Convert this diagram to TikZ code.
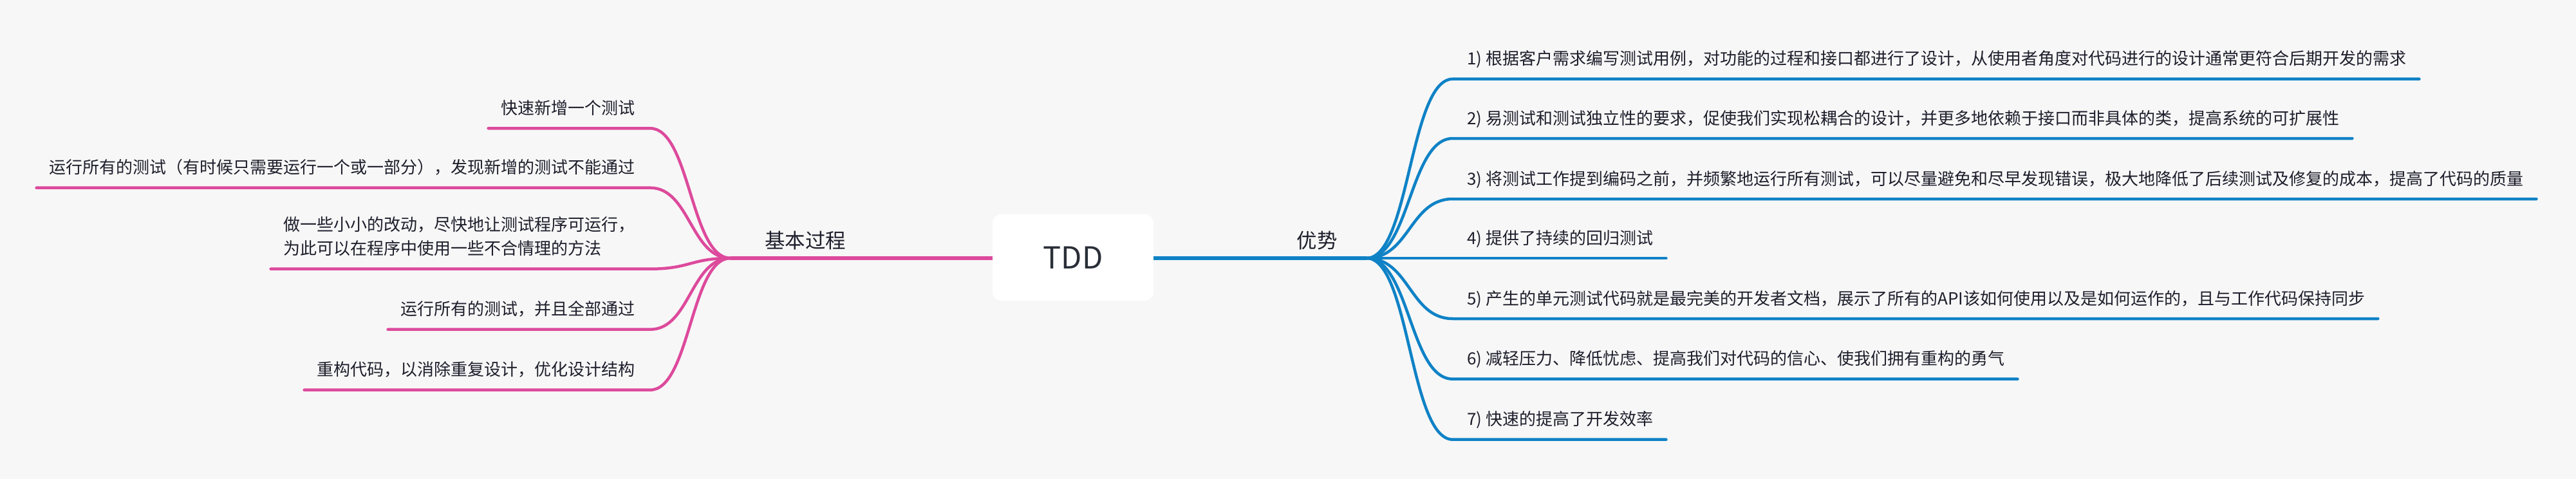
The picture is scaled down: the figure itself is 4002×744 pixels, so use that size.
\documentclass[tikz,border=0pt]{standalone}
\usepackage{fontspec}
\setmainfont{Noto Sans CJK SC}
\usetikzlibrary{calc}
\definecolor{bgc}{HTML}{F7F7F7}
\definecolor{pinkc}{HTML}{DD4A9C}
\definecolor{bluec}{HTML}{0F82C6}
\definecolor{txtc}{HTML}{1E1E2C}
\definecolor{tddc}{HTML}{2A2E37}
\begin{document}
\begin{tikzpicture}[x=1pt,y=-1pt,
  sub/.style={font=\fontsize{26}{37}\selectfont, text=txtc, inner sep=0pt},
  maintopic/.style={font=\fontsize{31.5}{38}\selectfont, text=txtc, inner sep=0pt},
  rootbox/.style={fill=white, rounded corners=14pt, minimum width=250pt, minimum height=135pt, inner sep=0pt, font=\fontsize{47}{50}\selectfont, text=tddc},
  pinkbr/.style={draw=pinkc, line width=4.5pt, line cap=round},
  bluebr/.style={draw=bluec, line width=4.5pt, line cap=round},
  pinkmain/.style={draw=pinkc, line width=5.5pt},
  bluemain/.style={draw=bluec, line width=5.5pt}]
\fill[bgc] (0,0) rectangle (4002,744);
\useasboundingbox (0,0) rectangle (4002,744);

% root
\node[rootbox] (tdd) at (1667,400) {TDD};
\coordinate (L) at (1135,401);
\coordinate (R) at (2123,401);
\draw[pinkmain] (tdd.west |- L) -- (L);
\draw[bluemain] (tdd.east |- R) -- (R);
\node[maintopic, anchor=base] (basic) at (1251,385) {基本过程};
\node[maintopic, anchor=base] (adv) at (2046,385) {优势};

% left branches
\node[sub, anchor=base east] (l1) at (987,177.3) {快速新增一个测试};
\coordinate (lc1) at (1010,199.3);
\draw[pinkbr] (L) .. controls +(-62,0) and +(62,0) .. (lc1) -- ($(l1.west |- lc1)+(-20,0)$);

\node[sub, anchor=base east] (l2) at (987,269.7) {运行所有的测试（有时候只需要运行一个或一部分），发现新增的测试不能通过};
\coordinate (lc2) at (1010,291.7);
\draw[pinkbr] (L) .. controls +(-62,0) and +(62,0) .. (lc2) -- ($(l2.west |- lc2)+(-20,0)$);

\node[sub, anchor=base east] (l3) at (987,395.7) {\begin{tabular}[b]{@{}l@{}}做一些小小的改动，尽快地让测试程序可运行，\\为此可以在程序中使用一些不合情理的方法\end{tabular}};
\coordinate (lc3) at (1010,417.7);
\draw[pinkbr] (L) .. controls +(-62,0) and +(62,0) .. (lc3) -- ($(l3.west |- lc3)+(-20,0)$);

\node[sub, anchor=base east] (l4) at (987,489.7) {运行所有的测试，并且全部通过};
\coordinate (lc4) at (1010,511.7);
\draw[pinkbr] (L) .. controls +(-62,0) and +(62,0) .. (lc4) -- ($(l4.west |- lc4)+(-20,0)$);

\node[sub, anchor=base east] (l5) at (987,583.7) {重构代码，以消除重复设计，优化设计结构};
\coordinate (lc5) at (1010,605.7);
\draw[pinkbr] (L) .. controls +(-62,0) and +(62,0) .. (lc5) -- ($(l5.west |- lc5)+(-20,0)$);

% right branches
\node[sub, anchor=base west] (r1) at (2279,100.7) {1) 根据客户需求编写测试用例，对功能的过程和接口都进行了设计，从使用者角度对代码进行的设计通常更符合后期开发的需求};
\coordinate (rc1) at (2257,122.7);
\draw[bluebr] (R) .. controls +(67,0) and +(-67,0) .. (rc1) -- ($(r1.east |- rc1)+(20,0)$);

\node[sub, anchor=base west] (r2) at (2279,193) {2) 易测试和测试独立性的要求，促使我们实现松耦合的设计，并更多地依赖于接口而非具体的类，提高系统的可扩展性};
\coordinate (rc2) at (2257,215);
\draw[bluebr] (R) .. controls +(67,0) and +(-67,0) .. (rc2) -- ($(r2.east |- rc2)+(20,0)$);

\node[sub, anchor=base west] (r3) at (2279,287) {3) 将测试工作提到编码之前，并频繁地运行所有测试，可以尽量避免和尽早发现错误，极大地降低了后续测试及修复的成本，提高了代码的质量};
\coordinate (rc3) at (2257,309);
\draw[bluebr] (R) .. controls +(67,0) and +(-67,0) .. (rc3) -- ($(r3.east |- rc3)+(20,0)$);

\node[sub, anchor=base west] (r4) at (2279,379) {4) 提供了持续的回归测试};
\draw[bluebr] (R) -- ($(r4.east |- R)+(20,0)$);

\node[sub, anchor=base west] (r5) at (2279,473) {5) 产生的单元测试代码就是最完美的开发者文档，展示了所有的API该如何使用以及是如何运作的，且与工作代码保持同步};
\coordinate (rc5) at (2257,495);
\draw[bluebr] (R) .. controls +(67,0) and +(-67,0) .. (rc5) -- ($(r5.east |- rc5)+(20,0)$);

\node[sub, anchor=base west] (r6) at (2279,566.7) {6) 减轻压力、降低忧虑、提高我们对代码的信心、使我们拥有重构的勇气};
\coordinate (rc6) at (2257,588.7);
\draw[bluebr] (R) .. controls +(67,0) and +(-67,0) .. (rc6) -- ($(r6.east |- rc6)+(20,0)$);

\node[sub, anchor=base west] (r7) at (2279,660.7) {7) 快速的提高了开发效率};
\coordinate (rc7) at (2257,682.7);
\draw[bluebr] (R) .. controls +(67,0) and +(-67,0) .. (rc7) -- ($(r7.east |- rc7)+(20,0)$);
\end{tikzpicture}
\end{document}
